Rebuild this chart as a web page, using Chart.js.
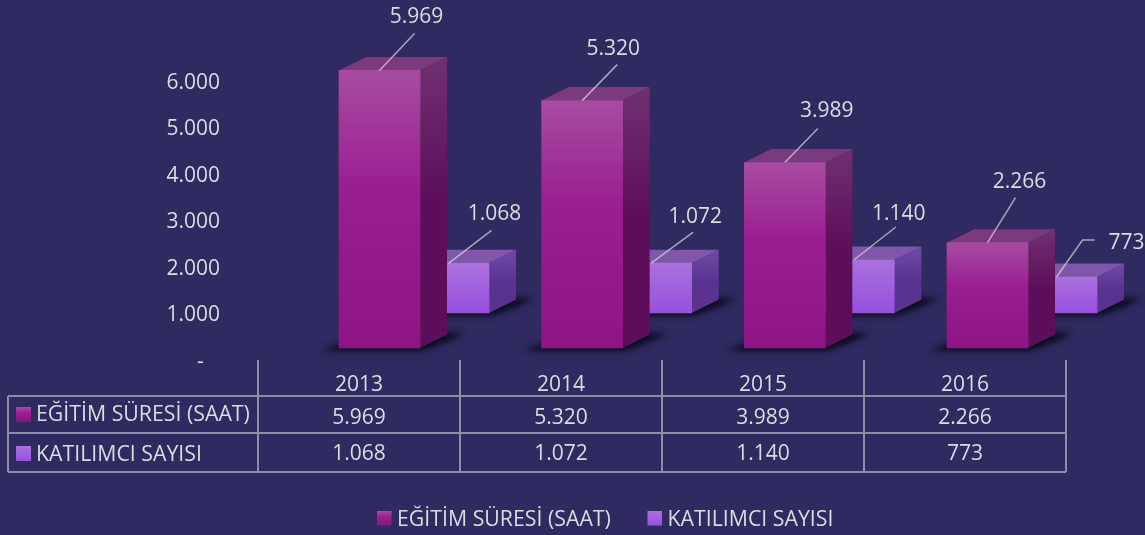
<!DOCTYPE html>
<html><head><meta charset="utf-8">
<style>html,body{margin:0;padding:0;background:#2f2a5f;overflow:hidden}canvas{display:block}</style>
<script src="https://cdn.jsdelivr.net/npm/chart.js@4"></script></head>
<body><canvas id="c" width="1145" height="535"></canvas>
<script>
const years = [2013, 2014, 2015, 2016];
const seriesNames = ['EĞİTİM SÜRESİ (SAAT)', 'KATILIMCI SAYISI'];
const egitimSuresi = [5969, 5320, 3989, 2266];
const katilimciSayisi = [1068, 1072, 1140, 773];
const yTicks = [0, 1000, 2000, 3000, 4000, 5000, 6000];

const FONT = '"Open Sans", sans-serif';
const TXT = '#dcdce2';
const LINE = 'rgba(200,200,215,0.62)';
const PX_PER_K = 46.5, AXIS_Y = 360, DX = 27, DY = 13.5, BAR_W = 81;
const BAR_SPAN = 808 / 202.67; // hidden x scales: years visible across the plot width
const fmt = v => String(v).replace(/\B(?=(\d{3})+(?!\d))/g, '.');
const palette = [
  {front:[[0,'#a74ca1'],[.42,'#9a1e91'],[1,'#8c1583']], side:['#703070','#5c0e5a'], top:'#7c3a7e'},
  {front:[[0,'#a971dc'],[1,'#9850e0']], side:['#6f4ba6','#5a3390'], top:'#7f57a8'}
];
function grad(ctx, y0, y1, stops){const g=ctx.createLinearGradient(0,y0,0,y1);stops.forEach(s=>g.addColorStop(s[0],s[1]));return g;}
function swatch(ctx,i,x,y,s){ctx.fillStyle=grad(ctx,y,y+s,palette[i].front);ctx.fillRect(x,y,s,s);}

// leader-line and label offsets relative to the top-centre of each bar
const calloutS1 = [{line:[[35,-37]],label:[37,-53]},{line:[[35,-36]],label:[31,-52]},{line:[[33,-34]],label:[42,-51]},{line:[[28,-45]],label:[32,-61]}];
const calloutS2 = [{line:[[43,-33]],label:[46,-49]},{line:[[42,-31]],label:[44,-46]},{line:[[42,-33]],label:[45,-46]},{line:[[26,-37],[38,-37]],label:[70,-34]}];
const callouts = [calloutS1, calloutS2];

const bars3d = {
  id:'bars3d',
  beforeDatasetDraw(chart,args){
    const ctx=chart.ctx,p=palette[args.index];
    args.meta.data.forEach(b=>{
      const l=b.x-b.width/2,r=b.x+b.width/2,t=b.y,bot=b.base;
      ctx.save();ctx.filter='blur(3px)';ctx.fillStyle='rgba(8,6,25,0.9)';
      ctx.beginPath();ctx.moveTo(l-18,bot+2);ctx.lineTo(l,bot-4);ctx.lineTo(r+DX,bot-DY-2);
      ctx.lineTo(r+DX+18,bot-DY-1);ctx.lineTo(r+DX-2,bot-DY+8);ctx.lineTo(r+2,bot+3);ctx.lineTo(l-5,bot+3);ctx.closePath();ctx.fill();ctx.restore();
      ctx.fillStyle=p.top;
      ctx.beginPath();ctx.moveTo(l,t);ctx.lineTo(l+DX,t-DY);ctx.lineTo(r+DX,t-DY);ctx.lineTo(r,t);ctx.closePath();ctx.fill();
      ctx.fillStyle=grad(ctx,t-DY,bot,[[0,p.side[0]],[.5,p.side[1]],[1,p.side[1]]]);
      ctx.beginPath();ctx.moveTo(r,t);ctx.lineTo(r+DX,t-DY);ctx.lineTo(r+DX,bot-DY);ctx.lineTo(r,bot);ctx.closePath();ctx.fill();
    });
  },
  afterDatasetsDraw(chart){
    const ctx=chart.ctx;
    ctx.save();ctx.font='21px '+FONT;ctx.textAlign='center';ctx.textBaseline='middle';
    chart.data.datasets.forEach((d,si)=>{
      chart.getDatasetMeta(si).data.forEach((b,i)=>{
        const c=callouts[si][i];
        ctx.strokeStyle='rgba(215,215,225,0.72)';ctx.lineWidth=1.5;
        ctx.beginPath();ctx.moveTo(b.x,b.y);c.line.forEach(o=>ctx.lineTo(b.x+o[0],b.y+o[1]));ctx.stroke();
        ctx.fillStyle=TXT;ctx.fillText(fmt(d.data[i].y),b.x+c.label[0],b.y+c.label[1]);
      });
    });
    ctx.restore();
  }
};

const dataTable = {
  id:'dataTable',
  afterDraw(chart){
    const ctx=chart.ctx,xs=chart.scales.x;
    const colW=xs.getPixelForValue(1)-xs.getPixelForValue(0);
    const colEdges=[0,1,2,3,4].map(i=>xs.left+i*colW);
    const left=8,hl=[396,433,472],top=AXIS_Y;
    ctx.save();ctx.strokeStyle=LINE;ctx.lineWidth=2;ctx.beginPath();
    hl.forEach(y=>{ctx.moveTo(left,y);ctx.lineTo(colEdges[4],y);});
    ctx.moveTo(left,hl[0]);ctx.lineTo(left,hl[2]);
    colEdges.forEach(x=>{ctx.moveTo(x,top);ctx.lineTo(x,hl[2]);});
    ctx.stroke();
    ctx.textBaseline='middle';
    [egitimSuresi,katilimciSayisi].forEach((vals,r)=>{
      const y=[418,454][r];
      swatch(ctx,r,16,[407,446][r],15);
      ctx.fillStyle=TXT;ctx.textAlign='left';ctx.font='21.3px '+FONT;
      ctx.fillText(seriesNames[r],36,y+(r?1:-3));
      ctx.textAlign='center';ctx.font='21px '+FONT;
      vals.forEach((v,i)=>ctx.fillText(fmt(v),xs.getPixelForValue(i),y));
    });
    chart.legend.legendHitBoxes.forEach((h,i)=>swatch(ctx,i,h.left-5.35,511,14.5));
    ctx.restore();
  }
};

const legendPlacer = {
  id:'legendPlacer',
  afterLayout(chart){
    const lg=chart.legend;
    lg.left=340.35;lg.right=1400;lg.top=467;lg.bottom=535;
    lg.adjustHitBoxes();
  }
};

new Chart(document.getElementById('c'),{
  type:'bar',
  data:{
    labels:years.map(String),
    datasets:[
      {label:seriesNames[0],data:years.map((y,i)=>({x:y,y:egitimSuresi[i]})),xAxisID:'x1',yAxisID:'y1',
       barThickness:BAR_W,grouped:false,clip:false,borderWidth:0,
       backgroundColor:c=>c.type==='data'?grad(c.chart.ctx,c.chart.scales.y1.getPixelForValue(c.parsed.y),c.chart.scales.y1.getPixelForValue(0),palette[0].front):palette[0].front[1][1]},
      {label:seriesNames[1],data:years.map((y,i)=>({x:y,y:katilimciSayisi[i]})),xAxisID:'x2',yAxisID:'y2',
       barThickness:BAR_W,grouped:false,clip:false,borderWidth:0,
       backgroundColor:c=>c.type==='data'?grad(c.chart.ctx,c.chart.scales.y2.getPixelForValue(c.parsed.y),c.chart.scales.y2.getPixelForValue(0),palette[1].front):palette[1].front[1][1]}
    ]
  },
  plugins:[legendPlacer,bars3d,dataTable],
  options:{
    responsive:false,animation:false,
    layout:{autoPadding:false,padding:{left:0,right:79,top:0,bottom:0}},
    plugins:{
      tooltip:{enabled:false},title:{display:false},
      legend:{display:true,position:'bottom',align:'start',onClick:null,
        labels:{color:TXT,font:{family:'"Open Sans", sans-serif',size:21.3},boxWidth:4,boxHeight:4,padding:42,
          generateLabels:ch=>ch.data.datasets.map((d,i)=>({text:d.label,fillStyle:'rgba(0,0,0,0)',strokeStyle:'rgba(0,0,0,0)',lineWidth:0,datasetIndex:i,fontColor:TXT}))}}
    },
    scales:{
      x:{type:'category',position:'bottom',offset:true,grid:{display:false},border:{display:false},
        ticks:{color:TXT,font:{family:'"Open Sans", sans-serif',size:21},padding:4,maxRotation:0,autoSkip:false},
        afterFit:s=>{s.height=175-s.chart.legend.height;}},
      x1:{type:'linear',display:false,offset:false,min:2013-0.5995,max:2013-0.5995+BAR_SPAN},
      x2:{type:'linear',display:false,offset:false,min:2013-0.94,max:2013-0.94+BAR_SPAN},
      y:{type:'linear',position:'left',min:0,max:AXIS_Y/PX_PER_K*1000,grid:{display:false},border:{display:false},
        afterBuildTicks:s=>{s.ticks=yTicks.map(v=>({value:v}));},
        afterFit:s=>{s.width=258;s.paddingTop=0;s.paddingBottom=0;},
        ticks:{color:TXT,font:{family:'"Open Sans", sans-serif',size:21},padding:30,labelOffset:2,autoSkip:false,callback:v=>v===0?'-   ':fmt(v)}},
      y1:{type:'linear',display:false,min:-12/PX_PER_K*1000,max:(AXIS_Y-12)/PX_PER_K*1000},
      y2:{type:'linear',display:false,min:-47/PX_PER_K*1000,max:(AXIS_Y-47)/PX_PER_K*1000}
    }
  }
});
</script></body></html>
